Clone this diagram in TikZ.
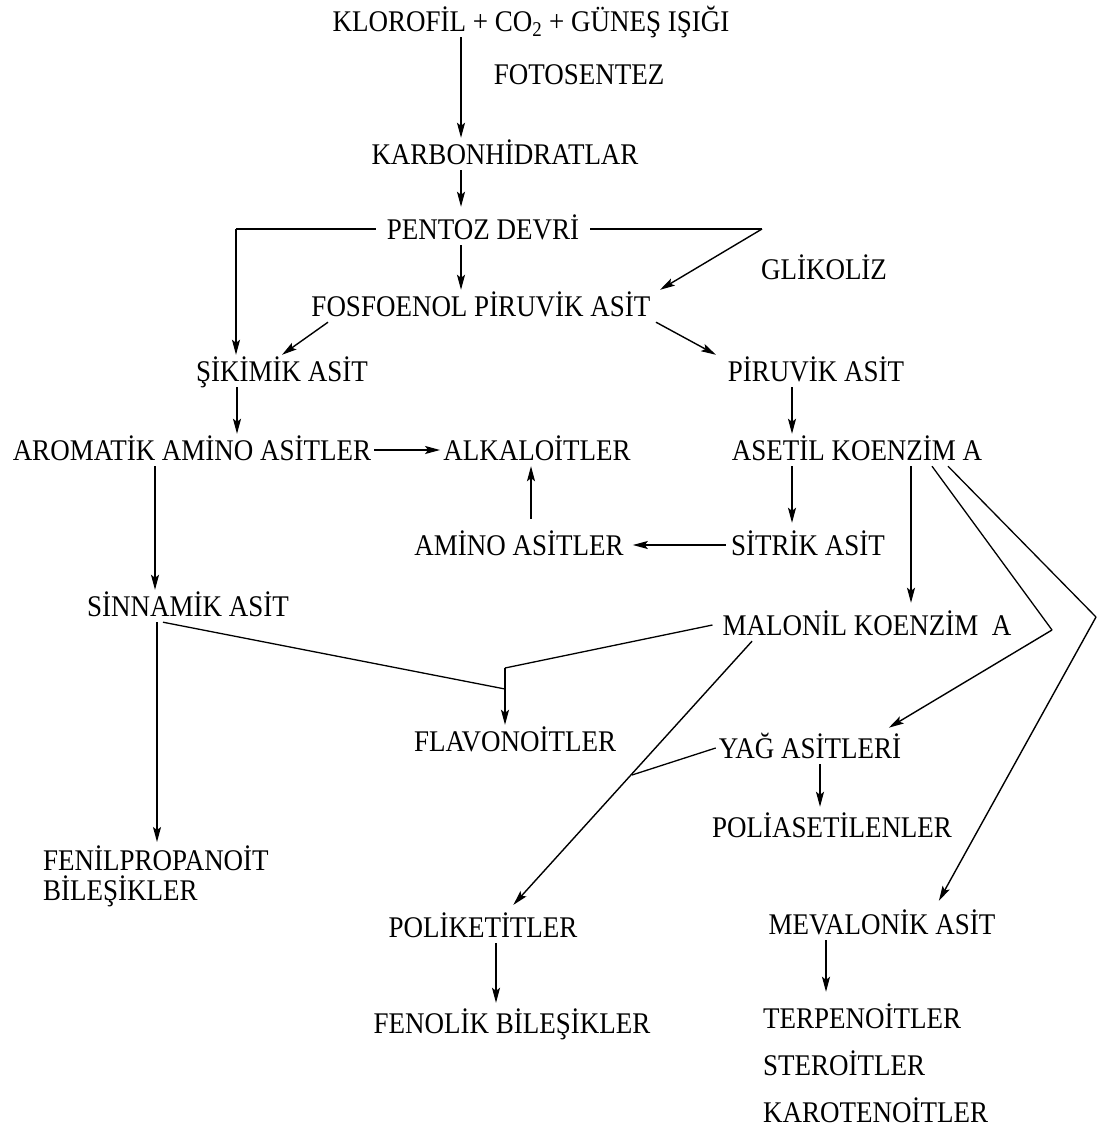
\documentclass[tikz,border=0pt]{standalone}
\usepackage{fontspec}
\setmainfont{Liberation Serif}[FakeStretch=0.9]
\usetikzlibrary{arrows.meta,calc}
\begin{document}
\begin{tikzpicture}[x=1pt,y=-1pt,
  lbl/.style={font=\fontsize{30}{30}\selectfont, inner xsep=5pt, inner ysep=6pt, text height=20pt, text depth=0pt, anchor=base},
  lbll/.style={lbl, anchor=base west, inner xsep=0pt},
  arr/.style={-{Stealth[length=15pt,width=8pt,inset=3pt]}, line width=1.4pt},
  ln/.style={line width=1.3pt}]
\useasboundingbox (0,0) rectangle (1096,1135);
% nodes
\node[lbl] (klor) at (531,31) {KLOROFİL + CO\textsubscript{2} + GÜNEŞ IŞIĞI};
\node[lbl] (foto) at (579,84) {FOTOSENTEZ};
\node[lbl] (karb) at (505,164) {KARBONHİDRATLAR};
\node[lbl, inner xsep=11pt] (pent) at (483,239) {PENTOZ DEVRİ};
\node[lbl] (glik) at (824,279) {GLİKOLİZ};
\node[lbl] (fos) at (481,316) {FOSFOENOL PİRUVİK ASİT};
\node[lbl] (sik) at (282,381) {ŞİKİMİK ASİT};
\node[lbl] (pir) at (816,381) {PİRUVİK ASİT};
\node[lbl, inner xsep=3pt] (arom) at (192,460) {AROMATİK AMİNO ASİTLER};
\node[lbl, inner xsep=3pt] (alk) at (537,460) {ALKALOİTLER};
\node[lbl] (aset) at (857,460) {ASETİL KOENZİM A};
\node[lbl, inner xsep=9pt] (amino) at (519,555) {AMİNO ASİTLER};
\node[lbl] (sitrik) at (808,555) {SİTRİK ASİT};
\node[lbl] (sinn) at (188,616) {SİNNAMİK ASİT};
\node[lbl, inner xsep=10pt] (malo) at (867,635) {MALONİL KOENZİM\ \ A};
\node[lbl] (flav) at (515,751) {FLAVONOİTLER};
\node[lbl, inner xsep=3pt] (yag) at (810,758) {YAĞ ASİTLERİ};
\node[lbl] (polia) at (832,837) {POLİASETİLENLER};
\node[lbl, anchor=north west, text height=, text depth=, inner sep=0pt, align=left, font=\fontsize{30}{30}\selectfont] (fenil) at (43,846) {FENİLPROPANOİT\\BİLEŞİKLER};
\node[lbl] (poliket) at (483,937) {POLİKETİTLER};
\node[lbl] (meval) at (882,934) {MEVALONİK ASİT};
\node[lbl] (fenol) at (512,1033) {FENOLİK BİLEŞİKLER};
\node[lbll] (terp) at (763,1028) {TERPENOİTLER};
\node[lbll] (ster) at (763,1075) {STEROİTLER};
\node[lbll] (karot) at (763,1122) {KAROTENOİTLER};
% junction coordinates
\coordinate (jpl) at (236,229);
\coordinate (jpr) at (762,229);
\coordinate (jf1) at (505,668);
\coordinate (jf2) at (505,689);
\coordinate (jr1) at (1052,630);
\coordinate (jr2) at (1096,617);
\coordinate (jy) at (632,775);
% connectors
\draw[arr] (klor.south -| 461,0) -- (karb.north -| 461,0);
\draw[arr, shorten >=6pt] (karb.south -| 461,0) -- (pent.north -| 461,0);
\draw[ln] (pent.west) -- (jpl);
\draw[arr] (jpl) -- (sik.north -| jpl);
\draw[ln] (pent.east) -- (jpr);
\draw[arr] (jpr) -- (fos.north -| 660,0);
\draw[arr] (pent.south -| 461,0) -- (fos.north -| 461,0);
\draw[arr] (fos.south -| 328,0) -- (sik.north -| 282,0);
\draw[arr] (fos.south -| 656,0) -- (pir.north -| 716,0);
\draw[arr] (sik.south -| 237,0) -- (arom.north -| 237,0);
\draw[arr] (arom.east) -- (alk.west);
\draw[arr] (arom.south -| 155,0) -- (sinn.north -| 155,0);
\draw[arr, shorten <=10pt] (amino.north -| 531,0) -- (alk.south -| 531,0);
\draw[arr] (pir.south -| 792,0) -- (aset.north -| 792,0);
\draw[arr, shorten >=6pt] (aset.south -| 792,0) -- (sitrik.north -| 792,0);
\draw[arr] (sitrik.west) -- (amino.east);
\draw[arr, shorten >=6pt] (aset.south -| 911,0) -- (malo.north -| 911,0);
\draw[arr, shorten >=4pt] (sinn.south -| 157,0) -- (fenil.north -| 157,0);
\draw[ln] (sinn.south -| 163,0) -- (jf2);
\draw[ln] (malo.west) -- (jf1);
\draw[arr] (jf1) -- (flav.north -| jf1);
\draw[arr, shorten >=8pt] (malo.south -| 752,0) -- (poliket.north -| 508,0);
\draw[ln] (yag.west) -- (jy);
\draw[arr, shorten >=4pt] (yag.south -| 820,0) -- (polia.north -| 820,0);
\draw[ln] (aset.south -| 932,0) -- (jr1);
\draw[arr, shorten >=8pt] (jr1) -- (yag.north -| 882,0);
\draw[ln] (aset.south -| 948,0) -- (jr2);
\draw[arr, shorten >=8pt] (jr2) -- (meval.north -| 935,0);
\draw[arr, shorten >=4pt] (poliket.south -| 496,0) -- (fenol.north -| 496,0);
\draw[arr, shorten >=10pt] (meval.south -| 826,0) -- (terp.north -| 826,0);
\end{tikzpicture}
\end{document}
